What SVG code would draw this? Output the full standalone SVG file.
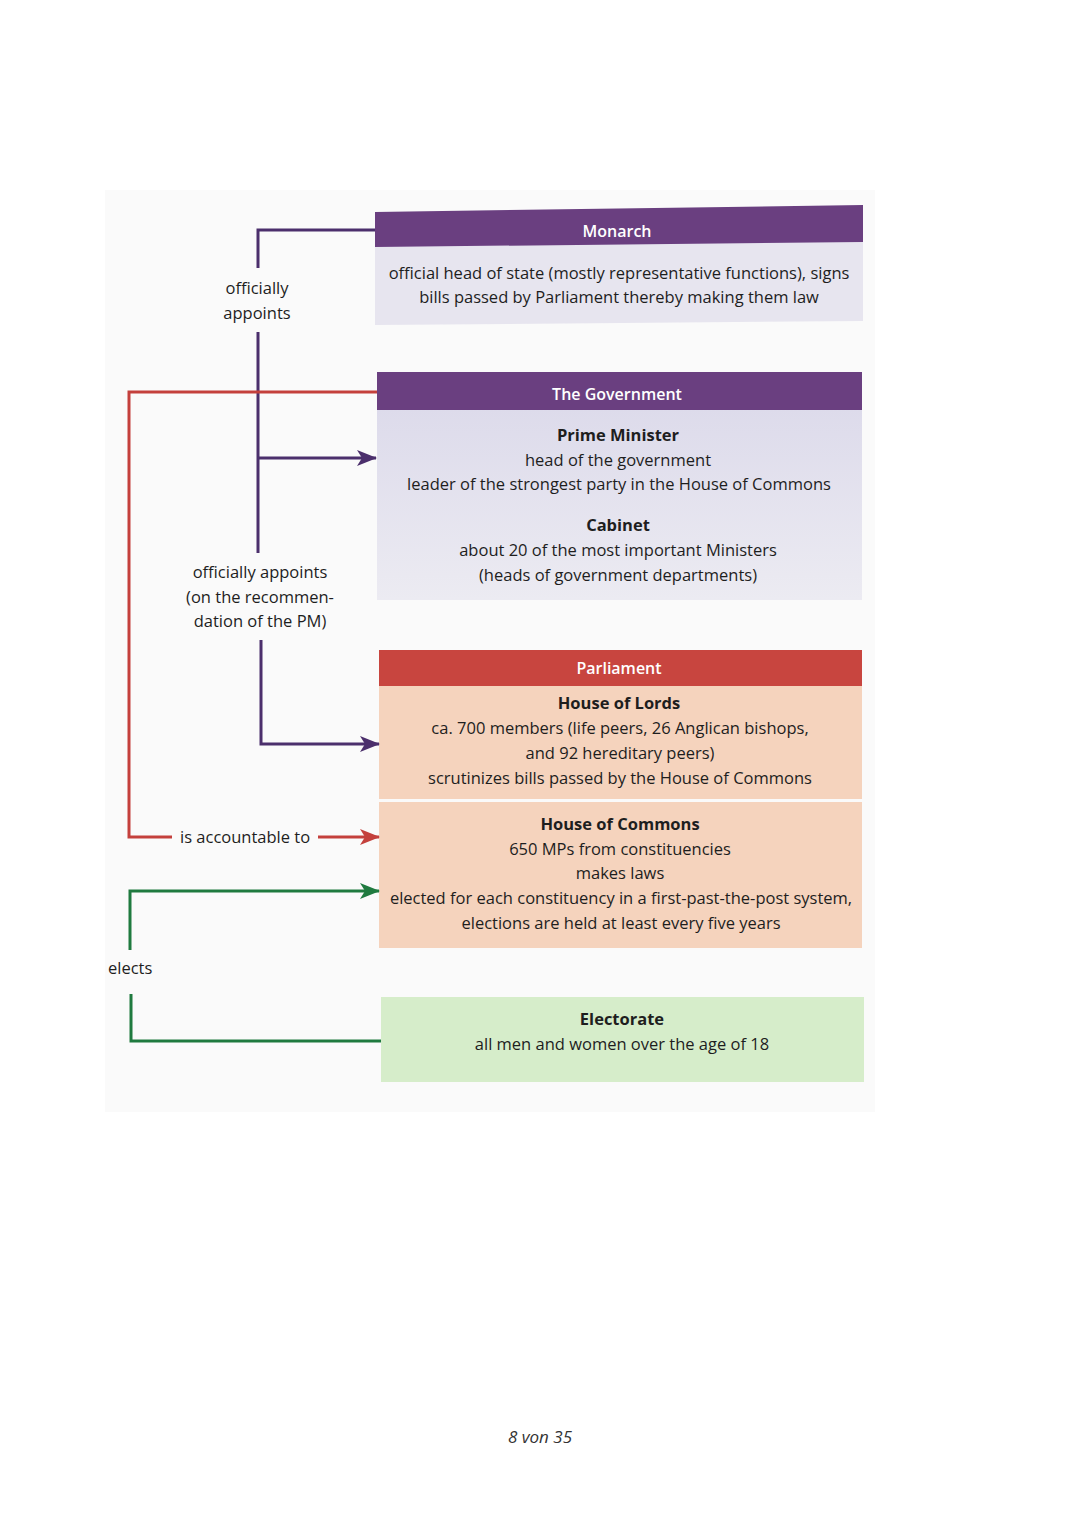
<svg xmlns="http://www.w3.org/2000/svg" width="1080" height="1527" viewBox="0 0 1080 1527">
<style>
.t{font-family:"Open Sans","Noto Sans","Liberation Sans",sans-serif;font-size:16.5px;fill:#1e1e1e;text-anchor:middle}
.b{font-weight:bold}
.h{fill:#ffffff;font-size:16px;font-weight:600}
.l{font-family:"Open Sans","Noto Sans","Liberation Sans",sans-serif;font-size:16.5px;fill:#1e1e1e}
.pl{stroke:#4b2f6c;stroke-width:3;fill:none}
.rl{stroke:#c4403c;stroke-width:3;fill:none}
.gl{stroke:#1f7a3f;stroke-width:3;fill:none}
</style>
<defs>
<marker id="ap" markerWidth="20" markerHeight="16" refX="19" refY="8" orient="auto" markerUnits="userSpaceOnUse"><path d="M0,0 L20,8 L0,16 L5,8 Z" fill="#4b2f6c"/></marker>
<marker id="ar" markerWidth="20" markerHeight="16" refX="19" refY="8" orient="auto" markerUnits="userSpaceOnUse"><path d="M0,0 L20,8 L0,16 L5,8 Z" fill="#c4403c"/></marker>
<marker id="ag" markerWidth="20" markerHeight="16" refX="19" refY="8" orient="auto" markerUnits="userSpaceOnUse"><path d="M0,0 L20,8 L0,16 L5,8 Z" fill="#1f7a3f"/></marker>
<linearGradient id="gov" x1="0" y1="0" x2="0" y2="1"><stop offset="0" stop-color="#dddbeb"/><stop offset="1" stop-color="#ecebf2"/></linearGradient>
</defs>
<rect width="1080" height="1527" fill="#ffffff"/>
<rect x="105" y="190" width="770" height="922" fill="#fafafa"/>

<g id="monarch">
<path d="M375,246 L863,241 L863,321 L375,325 Z" fill="#e7e5ef"/>
<path d="M375,212 L863,205 L863,242 L375,247 Z" fill="#6a3f80"/>
<text class="t h" x="617" y="237">Monarch</text>
<text class="t" x="619" y="279">official head of state (mostly representative functions), signs</text>
<text class="t" x="619" y="303">bills passed by Parliament thereby making them law</text>
</g>

<g id="government">
<rect x="377" y="409" width="485" height="191" fill="url(#gov)"/>
<rect x="377" y="372" width="485" height="38" fill="#6a3f80"/>
<text class="t h" x="617" y="400">The Government</text>
<text class="t b" x="618" y="441">Prime Minister</text>
<text class="t" x="618" y="466">head of the government</text>
<text class="t" x="619" y="490">leader of the strongest party in the House of Commons</text>
<text class="t b" x="618" y="531">Cabinet</text>
<text class="t" x="618" y="556">about 20 of the most important Ministers</text>
<text class="t" x="618" y="581">(heads of government departments)</text>
</g>

<g id="parliament">
<rect x="379" y="686" width="483" height="113" fill="#f5d3bd"/>
<rect x="379" y="802" width="483" height="146" fill="#f5d3bd"/>
<rect x="379" y="650" width="483" height="36" fill="#c8453f"/>
<text class="t h" x="619" y="674">Parliament</text>
<text class="t b" x="619" y="709">House of Lords</text>
<text class="t" x="620" y="734">ca. 700 members (life peers, 26 Anglican bishops,</text>
<text class="t" x="620" y="759">and 92 hereditary peers)</text>
<text class="t" x="620" y="784">scrutinizes bills passed by the House of Commons</text>
<text class="t b" x="620" y="830">House of Commons</text>
<text class="t" x="620" y="855">650 MPs from constituencies</text>
<text class="t" x="620" y="879">makes laws</text>
<text class="t" x="621" y="904">elected for each constituency in a first-past-the-post system,</text>
<text class="t" x="621" y="929">elections are held at least every five years</text>
</g>

<g id="electorate">
<rect x="381" y="997" width="483" height="85" fill="#d6edca"/>
<text class="t b" x="622" y="1025">Electorate</text>
<text class="t" x="622" y="1050">all men and women over the age of 18</text>
</g>

<g id="connectors">
<path class="pl" d="M375,230 H258 V268"/>
<path class="pl" d="M258,332 V553"/>
<path class="pl" d="M258,458 H376" marker-end="url(#ap)"/>
<path class="pl" d="M261,640 V744 H379" marker-end="url(#ap)"/>
<path class="rl" d="M377,392 H129 V837 H172"/>
<path class="rl" d="M318,837 H379" marker-end="url(#ar)"/>
<path class="gl" d="M130,950 V891 H379" marker-end="url(#ag)"/>
<path class="gl" d="M131,994 V1041 H381"/>
</g>

<g id="labels">
<text class="t" x="257" y="294">officially</text>
<text class="t" x="257" y="319">appoints</text>
<text class="t" x="260" y="578">officially appoints</text>
<text class="t" x="260" y="603">(on the recommen-</text>
<text class="t" x="260" y="627">dation of the PM)</text>
<text class="l" x="180" y="843">is accountable to</text>
<text class="l" x="108" y="974">elects</text>
</g>

<text x="540" y="1443" style="font-family:'Open Sans','Noto Sans',sans-serif;font-size:17px;font-style:italic;fill:#333;text-anchor:middle">8 von 35</text>
</svg>
